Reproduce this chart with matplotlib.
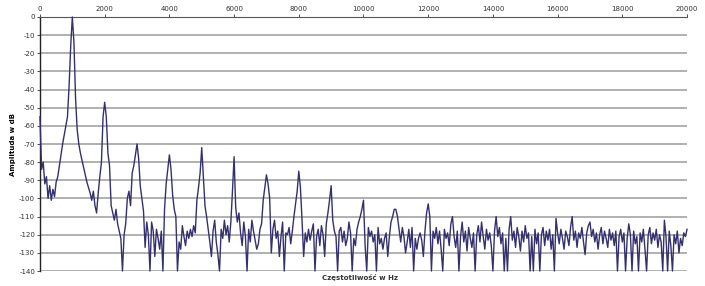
import numpy as np
import matplotlib.pyplot as plt

# frequency grid, 50 Hz step (0 .. 20000 Hz)
freq_hz = np.arange(0, 20001, 50)

# amplitude in dB, one row per 1000 Hz
amp_db = [
    -55, -84, -80, -92, -88, -100, -93, -101, -95, -99, -91, -88, -82, -76, -70, -65, -60, -55, -38, -16,
    0, -14, -45, -62, -70, -75, -79, -83, -87, -91, -94, -97, -101, -96, -104, -108, -97, -88, -80, -55,
    -47, -55, -75, -82, -104, -108, -112, -106, -114, -118, -122, -140, -120, -114, -100, -96, -104, -86, -82, -76,
    -70, -78, -93, -100, -107, -127, -113, -120, -140, -113, -118, -132, -117, -122, -128, -118, -140, -106, -92, -84,
    -76, -84, -98, -106, -110, -140, -124, -128, -115, -121, -126, -118, -122, -117, -121, -115, -119, -101, -94, -86,
    -72, -88, -104, -110, -117, -124, -132, -118, -112, -124, -131, -140, -117, -122, -112, -120, -115, -124, -113, -96,
    -77, -105, -113, -108, -119, -126, -113, -121, -140, -117, -124, -112, -118, -123, -128, -125, -117, -114, -101, -94,
    -87, -92, -100, -130, -117, -112, -122, -118, -132, -121, -113, -140, -119, -120, -116, -125, -118, -110, -103, -96,
    -85, -94, -112, -132, -119, -124, -117, -123, -118, -114, -140, -121, -117, -126, -115, -120, -132, -114, -108, -101,
    -93, -112, -118, -121, -140, -118, -116, -124, -118, -126, -122, -113, -119, -140, -122, -126, -117, -113, -110, -106,
    -101, -126, -140, -116, -121, -118, -124, -120, -140, -116, -125, -122, -128, -122, -119, -132, -121, -113, -110, -106,
    -106, -110, -117, -124, -116, -121, -130, -124, -117, -127, -116, -140, -122, -128, -122, -119, -123, -132, -118, -108,
    -103, -110, -140, -118, -122, -116, -125, -118, -128, -140, -117, -122, -119, -126, -114, -110, -121, -127, -118, -140,
    -121, -113, -124, -118, -129, -116, -122, -127, -119, -140, -120, -115, -124, -113, -121, -128, -117, -123, -119, -126,
    -140, -118, -110, -121, -116, -125, -119, -140, -122, -140, -117, -110, -123, -118, -127, -116, -121, -129, -118, -124,
    -115, -122, -119, -140, -121, -140, -117, -125, -119, -140, -120, -116, -126, -118, -123, -117, -128, -120, -140, -111,
    -119, -125, -117, -122, -128, -118, -121, -126, -116, -110, -123, -118, -127, -119, -122, -116, -124, -131, -119, -115,
    -113, -121, -117, -124, -119, -128, -120, -116, -125, -118, -122, -127, -117, -123, -119, -126, -118, -140, -121, -117,
    -124, -119, -140, -122, -114, -120, -140, -118, -125, -121, -140, -119, -124, -117, -128, -140, -120, -116, -125, -119,
    -123, -117, -127, -120, -124, -140, -112, -121, -140, -118, -126, -140, -120, -125, -118, -130, -122, -126, -119, -121,
    -117,
]

x_ticks = list(range(0, 20001, 2000))
y_ticks = list(range(0, -141, -10))

plt.rcParams['axes.unicode_minus'] = False

fig = plt.figure(figsize=(7.05, 2.86), dpi=100)
ax = fig.add_axes([0.0567, 0.0524, 0.9178, 0.8882])

ax.plot(freq_hz, amp_db, color='#34306e', linewidth=1.0, clip_on=False, zorder=3)

ax.set_xlim(0, 20000)
ax.set_ylim(-140, 0)
ax.set_xticks(x_ticks)
ax.set_yticks(y_ticks)
ax.xaxis.tick_top()
ax.tick_params(axis='both', labelsize=5, length=2, width=0.6, pad=1.5, colors='#333333')

ax.yaxis.grid(True, color='#b0b0b0', linewidth=1.4)
ax.set_axisbelow(True)
for side in ['right', 'bottom']:
    ax.spines[side].set_visible(False)
ax.spines['left'].set_color('#222222')
ax.spines['left'].set_linewidth(1.0)
ax.spines['top'].set_color('#555555')
ax.spines['top'].set_linewidth(0.8)

ax.set_ylabel('Amplituda w dB', fontsize=5, fontweight='bold', labelpad=2)
fig.text(0.51, 0.018, 'Częstotliwość w Hz', fontsize=5, fontweight='bold',
         ha='center', va='bottom', color='#333333')

plt.savefig('out.png', dpi=100)
